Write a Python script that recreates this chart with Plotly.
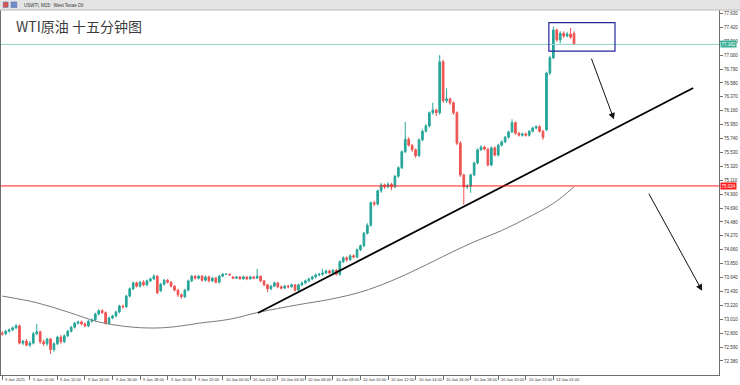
import plotly.graph_objects as go

# ---------------- data (15-minute bars, index 0 = 9 Jan 08:00) ----------------
OPEN = [
72.80,72.79,72.83,72.85,72.88,72.91,72.65,72.68,72.62,72.65,
72.79,72.82,72.67,72.64,72.71,72.55,72.64,72.74,72.67,72.76,
72.83,72.89,72.95,72.97,72.94,72.91,72.98,73.00,73.09,73.14,
73.11,72.95,73.03,73.06,73.12,73.21,73.20,73.36,73.47,73.56,
73.51,73.57,73.53,73.59,73.62,73.66,73.44,73.54,73.60,73.57,
73.51,73.45,73.38,73.35,73.45,73.59,73.66,73.63,73.66,73.60,
73.65,73.59,73.63,73.57,73.66,73.69,73.69,73.65,73.63,73.65,
73.62,73.65,73.62,73.65,73.63,73.66,73.59,73.53,73.47,73.51,
73.56,73.50,73.48,73.51,73.50,73.53,73.45,73.53,73.56,73.59,
73.62,73.65,73.68,73.69,73.71,73.74,73.71,73.75,73.69,73.88,
73.94,73.91,73.97,73.95,74.06,74.12,74.31,74.43,74.77,74.75,
74.95,75.04,75.01,75.05,75.01,75.17,75.30,75.54,75.73,75.64,
75.57,75.48,75.72,75.85,75.93,76.13,76.17,76.13,76.90,76.31,
76.34,76.28,76.13,75.67,75.19,75.01,75.02,75.19,75.37,75.57,
75.61,75.58,75.34,75.60,75.49,75.64,75.69,75.76,75.84,75.98,
75.82,75.79,75.81,75.79,75.85,75.90,75.92,75.85,75.87,76.73,
76.96,77.38,77.23,77.33,77.29,77.32,77.33]

CLOSE = [
72.79,72.83,72.85,72.88,72.91,72.65,72.68,72.62,72.65,72.79,
72.82,72.67,72.64,72.71,72.55,72.64,72.74,72.67,72.76,72.83,
72.89,72.95,72.97,72.94,72.91,72.98,73.00,73.09,73.14,73.11,
72.95,73.03,73.06,73.12,73.21,73.20,73.36,73.47,73.56,73.51,
73.57,73.53,73.59,73.62,73.66,73.41,73.54,73.60,73.57,73.51,
73.45,73.38,73.35,73.45,73.59,73.66,73.63,73.66,73.60,73.65,
73.59,73.63,73.57,73.66,73.69,73.69,73.68,73.63,73.65,73.62,
73.65,73.62,73.65,73.63,73.66,73.59,73.53,73.47,73.51,73.56,
73.50,73.48,73.51,73.50,73.53,73.45,73.53,73.56,73.59,73.62,
73.65,73.68,73.69,73.71,73.74,73.71,73.75,73.69,73.88,73.94,
73.91,73.97,73.95,74.06,74.12,74.31,74.43,74.77,74.75,74.95,
75.04,75.01,75.05,75.01,75.17,75.30,75.54,75.73,75.64,75.57,
75.48,75.72,75.85,75.93,76.13,76.17,76.13,76.90,76.31,76.34,
76.28,76.13,75.67,75.19,75.01,75.02,75.19,75.37,75.57,75.61,
75.58,75.34,75.60,75.49,75.64,75.69,75.76,75.84,75.98,75.82,
75.79,75.81,75.79,75.85,75.90,75.92,75.85,75.76,76.73,76.96,
77.38,77.23,77.33,77.29,77.32,77.27,77.16]

HIGH = [
72.83,72.85,72.87,72.90,72.94,72.93,72.70,72.71,72.68,72.82,
72.94,72.84,72.70,72.73,72.73,72.66,72.76,72.77,72.78,72.85,
72.91,72.97,72.99,72.99,72.96,73.00,73.02,73.11,73.16,73.16,
73.13,73.05,73.08,73.14,73.23,73.23,73.38,73.49,73.58,73.58,
73.59,73.60,73.61,73.64,73.69,73.68,73.56,73.62,73.62,73.59,
73.53,73.47,73.40,73.47,73.61,73.68,73.68,73.68,73.68,73.67,
73.67,73.65,73.65,73.68,73.71,73.70,73.70,73.66,73.66,73.66,
73.67,73.66,73.67,73.66,73.77,73.67,73.60,73.54,73.53,73.58,
73.57,73.52,73.53,73.53,73.55,73.54,73.55,73.58,73.61,73.64,
73.67,73.70,73.71,73.77,73.76,73.76,73.77,73.77,73.90,73.96,
73.96,73.99,73.99,74.08,74.14,74.33,74.46,74.79,74.80,74.97,
75.07,75.06,75.08,75.07,75.19,75.32,75.56,75.99,75.76,75.66,
75.59,75.74,75.88,75.96,76.15,76.28,76.19,77.00,76.93,76.50,
76.36,76.30,76.15,75.70,75.21,75.05,75.21,75.39,75.59,75.64,
75.63,75.60,75.62,75.62,75.66,75.71,75.78,75.86,76.03,76.00,
75.84,75.83,75.83,75.87,75.92,75.94,75.94,75.87,76.75,76.99,
77.43,77.40,77.36,77.36,77.35,77.41,77.36]

LOW = [
72.76,72.77,72.81,72.83,72.86,72.63,72.62,72.60,72.59,72.63,
72.77,72.64,72.61,72.61,72.49,72.52,72.62,72.64,72.65,72.74,
72.81,72.87,72.93,72.92,72.89,72.89,72.96,72.98,73.07,73.09,
72.93,72.93,73.01,73.04,73.10,73.17,73.18,73.34,73.45,73.49,
73.49,73.51,73.51,73.57,73.60,73.39,73.42,73.52,73.55,73.49,
73.43,73.35,73.32,73.33,73.43,73.57,73.61,73.61,73.58,73.58,
73.57,73.57,73.55,73.55,73.65,73.68,73.67,73.62,73.62,73.61,
73.61,73.60,73.61,73.62,73.62,73.57,73.51,73.42,73.45,73.50,
73.48,73.46,73.47,73.48,73.49,73.43,73.44,73.51,73.54,73.57,
73.60,73.63,73.66,73.67,73.69,73.69,73.69,73.67,73.67,73.86,
73.88,73.89,73.93,73.93,74.04,74.10,74.29,74.41,74.72,74.73,
74.92,74.98,74.99,74.96,74.99,75.15,75.28,75.52,75.62,75.54,
75.45,75.46,75.70,75.83,75.91,76.10,76.08,76.10,76.28,76.28,
76.25,76.10,75.64,75.16,74.74,74.98,74.92,75.17,75.35,75.55,
75.56,75.32,75.32,75.47,75.47,75.62,75.67,75.74,75.82,75.80,
75.77,75.77,75.77,75.77,75.83,75.88,75.83,75.72,75.85,76.70,
76.94,77.20,77.18,77.26,77.27,77.25,77.16]

BAR_INDEX = list(range(len(CLOSE)))

# moving average
MA_INDEX = [0, 10, 19, 28, 38, 46, 52, 57, 66, 74, 86, 95, 104, 113, 121, 130, 137, 145, 152, 160, 166]
MA_VALUE = [73.36, 73.26, 73.12, 72.97, 72.89, 72.88, 72.91, 72.95, 73.01, 73.11, 73.23, 73.31,
            73.42, 73.59, 73.78, 74.01, 74.18, 74.35, 74.53, 74.76, 75.01]

# time axis
TIME_TICK_INDEX = [0, 8, 16, 24, 32, 40, 48, 56, 64, 72, 80, 88, 96, 104, 112, 120, 128, 136, 144, 152, 160]
TIME_TICK_TEXT = ["9 Jan 2025", "9 Jan 10:00", "9 Jan 12:00", "9 Jan 14:00", "9 Jan 16:00",
                  "9 Jan 18:00", "9 Jan 20:00", "9 Jan 22:00", "10 Jan 00:00", "10 Jan 02:00",
                  "10 Jan 04:00", "10 Jan 06:00", "10 Jan 08:00", "10 Jan 10:00", "10 Jan 12:00",
                  "10 Jan 14:00", "10 Jan 16:00", "10 Jan 18:00", "10 Jan 20:00", "10 Jan 22:00",
                  "13 Jan 01:00"]

# price axis
PRICE_TICKS = [72.38, 72.59, 72.80, 73.01, 73.22, 73.43, 73.64, 73.85, 74.06, 74.27, 74.48, 74.69,
               74.90, 75.11, 75.32, 75.53, 75.74, 75.95, 76.16, 76.37, 76.58, 76.79, 77.00, 77.21,
               77.42, 77.63]
PRICE_TICK_TEXT = ["%.3f" % v for v in PRICE_TICKS]

SUPPORT_LEVEL = 75.024
LAST_PRICE = 77.162

# drawings (bar index, price)
TREND_X = [74.2, 200.6]
TREND_Y = [73.105, 76.504]
BOX_X = [158.7, 177.9]
BOX_Y = [77.06, 77.49]
ARROW1 = [(170.9, 76.97), (177.6, 76.03)]
ARROW2 = [(187.5, 74.93), (203.2, 73.44)]

GREEN = "#26a69a"
RED = "#ef5350"

fig = go.Figure()
fig.add_trace(go.Candlestick(
    x=BAR_INDEX, open=OPEN, high=HIGH, low=LOW, close=CLOSE,
    increasing=dict(line=dict(color=GREEN, width=1), fillcolor=GREEN),
    decreasing=dict(line=dict(color=RED, width=1), fillcolor=RED),
    whiskerwidth=0, showlegend=False, hoverinfo="skip"))
fig.add_trace(go.Scatter(x=MA_INDEX, y=MA_VALUE, mode="lines",
                         line=dict(color="#7a7a7a", width=1, shape="spline", smoothing=1.0),
                         showlegend=False, hoverinfo="skip"))
fig.add_trace(go.Scatter(x=TREND_X, y=TREND_Y, mode="lines",
                         line=dict(color="#000000", width=1.8),
                         showlegend=False, hoverinfo="skip"))

shapes = [
    dict(type="line", xref="paper", x0=0, x1=1, yref="y", y0=SUPPORT_LEVEL, y1=SUPPORT_LEVEL,
         line=dict(color="#ff1a1a", width=1)),
    dict(type="line", xref="paper", x0=0, x1=1, yref="y", y0=LAST_PRICE, y1=LAST_PRICE,
         line=dict(color="#8fd6c9", width=1)),
    dict(type="rect", xref="x", x0=BOX_X[0], x1=BOX_X[1], yref="y", y0=BOX_Y[0], y1=BOX_Y[1],
         line=dict(color="#23259a", width=1.2)),
    # header bar
    dict(type="rect", xref="paper", x0=-0.01, x1=1.04, yref="paper", y0=1.0, y1=1.04,
         fillcolor="#e4e4e4", line=dict(width=0), layer="above"),
    dict(type="line", xref="paper", x0=-0.01, x1=1.04, yref="paper", y0=1.0, y1=1.0,
         line=dict(color="#b8b8b8", width=1)),
    dict(type="rect", xref="paper", x0=0.003, x1=0.010, yref="paper", y0=1.007, y1=1.022,
         fillcolor="#d9534f", line=dict(color="#5577aa", width=0.5)),
    dict(type="rect", xref="paper", x0=0.014, x1=0.022, yref="paper", y0=1.007, y1=1.022,
         fillcolor="#6f8fc8", line=dict(color="#4466aa", width=0.5)),
]

annotations = [
    dict(text="WTI原油 十五分钟图", xref="paper", yref="paper", x=0.0185, y=0.956,
         xanchor="left", yanchor="middle", showarrow=False,
         font=dict(family="Noto Sans CJK SC", size=14, color="#3c3c3c")),
    dict(text="USWTI, M15:  West Texas Oil", xref="paper", yref="paper", x=0.029, y=1.0135,
         xanchor="left", yanchor="middle", showarrow=False,
         font=dict(family="Liberation Sans", size=4.5, color="#333333")),
    dict(text="%.3f" % SUPPORT_LEVEL, xref="paper", yref="y", x=1.0, y=SUPPORT_LEVEL,
         xanchor="left", yanchor="middle", xshift=1, showarrow=False, bgcolor="#ff1a1a",
         borderpad=0.5, font=dict(family="Liberation Sans", size=4.5, color="white")),
    dict(text="%.3f" % LAST_PRICE, xref="paper", yref="y", x=1.0, y=LAST_PRICE,
         xanchor="left", yanchor="middle", xshift=1, showarrow=False, bgcolor="#3aaf95",
         borderpad=0.5, font=dict(family="Liberation Sans", size=4.5, color="white")),
]
for (tx, ty), (hx, hy) in [ARROW1, ARROW2]:
    annotations.append(dict(x=hx, y=hy, ax=tx, ay=ty, xref="x", yref="y", axref="x", ayref="y",
                            text="", showarrow=True, arrowhead=2, arrowsize=1.3, arrowwidth=1,
                            arrowcolor="#111111"))
for t, label in zip(TIME_TICK_INDEX, TIME_TICK_TEXT):
    annotations.append(dict(text=label, xref="x", yref="paper", x=t, y=-0.0125, xshift=1,
                            xanchor="left", yanchor="middle", showarrow=False,
                            font=dict(family="Liberation Sans", size=4, color="#333333")))

fig.update_layout(
    width=740, height=385,
    margin=dict(l=1, r=21, t=10, b=10, autoexpand=False),
    paper_bgcolor="white", plot_bgcolor="white",
    shapes=shapes, annotations=annotations,
    xaxis=dict(range=[-0.377, 208.1], showgrid=False, zeroline=False, showline=True,
               linecolor="#6e6e6e", linewidth=1, ticks="outside", ticklen=4, tickcolor="#6e6e6e",
               tickvals=TIME_TICK_INDEX, showticklabels=False, rangeslider=dict(visible=False),
               fixedrange=True),
    yaxis=dict(range=[72.168, 77.682], side="right", showgrid=False, zeroline=False,
               showline=True, mirror=True, linecolor="#6e6e6e", linewidth=1, ticks="outside",
               ticklen=3, tickcolor="#6e6e6e", tickvals=PRICE_TICKS, ticktext=PRICE_TICK_TEXT,
               tickfont=dict(family="Liberation Sans", size=4.5, color="#333333"),
               fixedrange=True),
)

fig.write_html("out.html", config={"displayModeBar": False},
               post_script="document.body.style.margin='0';document.body.style.overflow='hidden';")
